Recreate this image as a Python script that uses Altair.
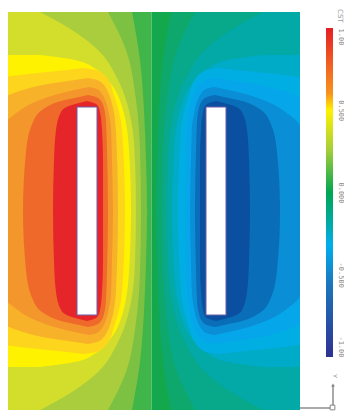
import altair as alt
import pandas as pd

# ---------------- field geometry (data units = px of the original field) ----------
FIELD_W = 297
FIELD_H = 398
MID_X = 148.5

PLATE_X0 = [74, 203]
PLATE_X1 = [94, 223]
PLATE_Y0 = [95, 95]
PLATE_Y1 = [303, 303]

# Contour regions {V >= k/10} around the left (+1) plate, top half only (y down to centre 199)
L9_Y = [89, 91, 94, 100, 118, 148, 199]
L9_XL = [84, 76, 66, 58, 53, 51, 50]
L9_XR = [84, 91, 95, 97, 99, 100, 100]

L8_Y = [83, 85, 89, 96, 110, 140, 199]
L8_XL = [85, 76, 58, 42, 30, 23, 20]
L8_XR = [85, 93, 98, 101, 103, 104, 105]

L7_Y = [75, 77, 82, 90, 102, 115, 150, 199]
L7_XL = [86, 76, 55, 32, 12, 0, 0, 0]
L7_XR = [86, 94, 99, 103, 106, 108, 109, 110]

L6_Y = [66, 68, 72, 78, 88, 120, 199]
L6_XL = [85, 72, 45, 20, 0, 0, 0]
L6_XR = [85, 94, 100, 104, 108, 113, 115]

L5_Y = [56, 58, 61, 66, 83, 118, 199]
L5_XL = [80, 64, 35, 0, 0, 0, 0]
L5_XR = [80, 93, 99, 104, 111, 119, 122]

L4_Y = [43, 48, 57, 72, 98, 138, 199]
L4_XL = [0, 0, 0, 0, 0, 0, 0]
L4_XR = [37, 72, 93, 108, 120, 126, 128]

L3_Y = [0, 18, 38, 68, 108, 148, 199]
L3_XL = [0, 0, 0, 0, 0, 0, 0]
L3_XR = [37, 69, 95, 115, 128, 132, 133]

L2_Y = [0, 38, 88, 138, 199]
L2_XL = [0, 0, 0, 0, 0]
L2_XR = [105, 123, 133, 137, 138]

L1_Y = [0, 48, 98, 148, 199]
L1_XL = [0, 0, 0, 0, 0]
L1_XR = [129, 137, 141, 143, 144]

LEVELS = [
    (1, L1_Y, L1_XL, L1_XR),
    (2, L2_Y, L2_XL, L2_XR),
    (3, L3_Y, L3_XL, L3_XR),
    (4, L4_Y, L4_XL, L4_XR),
    (5, L5_Y, L5_XL, L5_XR),
    (6, L6_Y, L6_XL, L6_XR),
    (7, L7_Y, L7_XL, L7_XR),
    (8, L8_Y, L8_XL, L8_XR),
    (9, L9_Y, L9_XL, L9_XR),
]

POS_BANDS = ["p0", "p1", "p2", "p3", "p4", "p5", "p6", "p7", "p8", "p9"]
POS_COLORS = ["#3fb54a", "#7cc142", "#aacd3e", "#d3dd2c", "#fff200",
              "#fdd51c", "#f8b22a", "#f3962c", "#ef6a2a", "#e6252b"]
NEG_BANDS = ["n0", "n1", "n2", "n3", "n4", "n5", "n6", "n7", "n8", "n9"]
NEG_COLORS = ["#14a84d", "#0ea86c", "#08a88a", "#03a9a6", "#00abc8",
              "#00aee4", "#06a6ea", "#0a8ed5", "#0a6db8", "#0b50a0"]

CBAR_VALUES = [1.0, 0.5, 0.0, -0.5, -1.0]
CBAR_STOPS = [0.0, 0.12, 0.2, 0.25, 0.37, 0.5, 0.6, 0.66, 0.78, 1.0]
CBAR_COLORS = ["#e41e26", "#f26522", "#f7941d", "#fff200", "#a6ce39",
               "#00a651", "#00aaad", "#00aeef", "#1c75bc", "#2e3192"]

# ---------------- build tables ----------------
rows = []
for k, ys, xl, xr in LEVELS:
    top = list(zip(ys, xl, xr))
    bottom = [(FIELD_H - y, a, b) for (y, a, b) in reversed(top[:-1])]
    for i, (y, a, b) in enumerate(top + bottom):
        rows.append({"k": k, "side": "L", "band": POS_BANDS[k], "i": i, "y": y, "x": a, "x2": b})
        rows.append({"k": k, "side": "R", "band": NEG_BANDS[k], "i": i, "y": y,
                     "x": FIELD_W - a, "x2": FIELD_W - b})
areas = pd.DataFrame(rows)

bg = pd.DataFrame({
    "band": ["p0", "n0"],
    "x": [0, MID_X], "x2": [MID_X, FIELD_W],
    "y": [0, 0], "y2": [FIELD_H, FIELD_H],
})
plates = pd.DataFrame({"x": PLATE_X0, "x2": PLATE_X1, "y": PLATE_Y0, "y2": PLATE_Y1})

color = alt.Color("band:N", scale=alt.Scale(domain=POS_BANDS + NEG_BANDS,
                                            range=POS_COLORS + NEG_COLORS), legend=None)
xs = alt.Scale(domain=[0, FIELD_W], nice=False, zero=False)
ys_ = alt.Scale(domain=[0, FIELD_H], nice=False, zero=False, reverse=True)

layers = [
    alt.Chart(bg).mark_rect().encode(
        x=alt.X("x:Q", scale=xs, axis=None), x2="x2:Q",
        y=alt.Y("y:Q", scale=ys_, axis=None), y2="y2:Q", color=color)
]
for k, _, _, _ in LEVELS:
    for sd in ["L", "R"]:
        sub = areas[(areas["k"] == k) & (areas["side"] == sd)]
        layers.append(
            alt.Chart(sub).mark_area(orient="horizontal", interpolate="monotone").encode(
                y=alt.Y("y:Q", scale=ys_, axis=None),
                x=alt.X("x:Q", scale=xs, axis=None), x2="x2:Q",
                color=color)
        )
layers.append(
    alt.Chart(plates).mark_rect(fill="white", stroke="#6d5fa8", strokeWidth=1).encode(
        x=alt.X("x:Q", scale=xs, axis=None), x2="x2:Q",
        y=alt.Y("y:Q", scale=ys_, axis=None), y2="y2:Q")
)
main = alt.layer(*layers).properties(width=FIELD_W, height=FIELD_H)

# ---------------- colour bar ----------------
cb = pd.DataFrame({"top": [CBAR_VALUES[0]], "bot": [CBAR_VALUES[-1]]})
grad = alt.Gradient(gradient="linear", x1=0, y1=0, x2=0, y2=1,
                    stops=[alt.GradientStop(color=c, offset=o) for c, o in zip(CBAR_COLORS, CBAR_STOPS)])
cscale = alt.Scale(domain=[-1.3222, 1.0973], nice=False, zero=False)
label_expr = ("datum.value == 1 ? '1.00' : datum.value == 0.5 ? '0.500' : "
              "datum.value == 0 ? '0.000' : datum.value == -0.5 ? '-0.500' : '-1.00'")
label_align = {"condition": [{"test": "datum.value == 1", "value": "left"},
                             {"test": "datum.value == -1", "value": "right"}],
               "value": "center"}
cbar = alt.Chart(cb).mark_rect(color=grad).encode(
    x=alt.value(0), x2=alt.value(7),
    y=alt.Y("top:Q", scale=cscale, axis=alt.Axis(
        orient="right", values=CBAR_VALUES, labelExpr=label_expr, domain=False, ticks=False,
        grid=False, title=None, labelAngle=90, labelFontSize=7, labelColor="#8a8a8a",
        labelFont="DejaVu Sans Mono", labelPadding=4, labelBaseline="bottom", labelOverlap=False,
        labelAlign=label_align)),
    y2="bot:Q",
)
cst = alt.Chart(pd.DataFrame({"t": ["CST"]})).mark_text(
    angle=90, align="left", baseline="bottom", fontSize=7, color="#9a9a9a", font="DejaVu Sans"
).encode(text="t:N", x=alt.value(11), y=alt.value(-3))

one = pd.DataFrame({"a": [0]})
triad_v = alt.Chart(one).mark_rule(color="#555", strokeWidth=1).encode(
    x=alt.value(7), y=alt.value(374), y2=alt.value(393))
triad_h = alt.Chart(one).mark_rule(color="#555", strokeWidth=1).encode(
    x=alt.value(-26), x2=alt.value(4), y=alt.value(396))
triad_arrow = alt.Chart(one).mark_point(
    shape="triangle-up", filled=True, color="#555", size=14).encode(x=alt.value(7), y=alt.value(373))
triad_box = alt.Chart(one).mark_square(
    filled=False, color="#555", size=22, strokeWidth=1).encode(x=alt.value(6.5), y=alt.value(395.5))
triad_y = alt.Chart(pd.DataFrame({"t": ["Y"]})).mark_text(
    angle=90, fontSize=6, color="#777").encode(text="t:N", x=alt.value(9), y=alt.value(364))

side = alt.layer(cbar, cst, triad_v, triad_h, triad_arrow, triad_box, triad_y).properties(
    width=7, height=FIELD_H)

chart = alt.hconcat(main, side, spacing=26, bounds="flush").properties(
    padding={"left": -5, "top": 1, "right": 0, "bottom": 0}
).configure_view(stroke=None)

chart.save("out.html", embed_options={"renderer": "svg", "actions": False})
